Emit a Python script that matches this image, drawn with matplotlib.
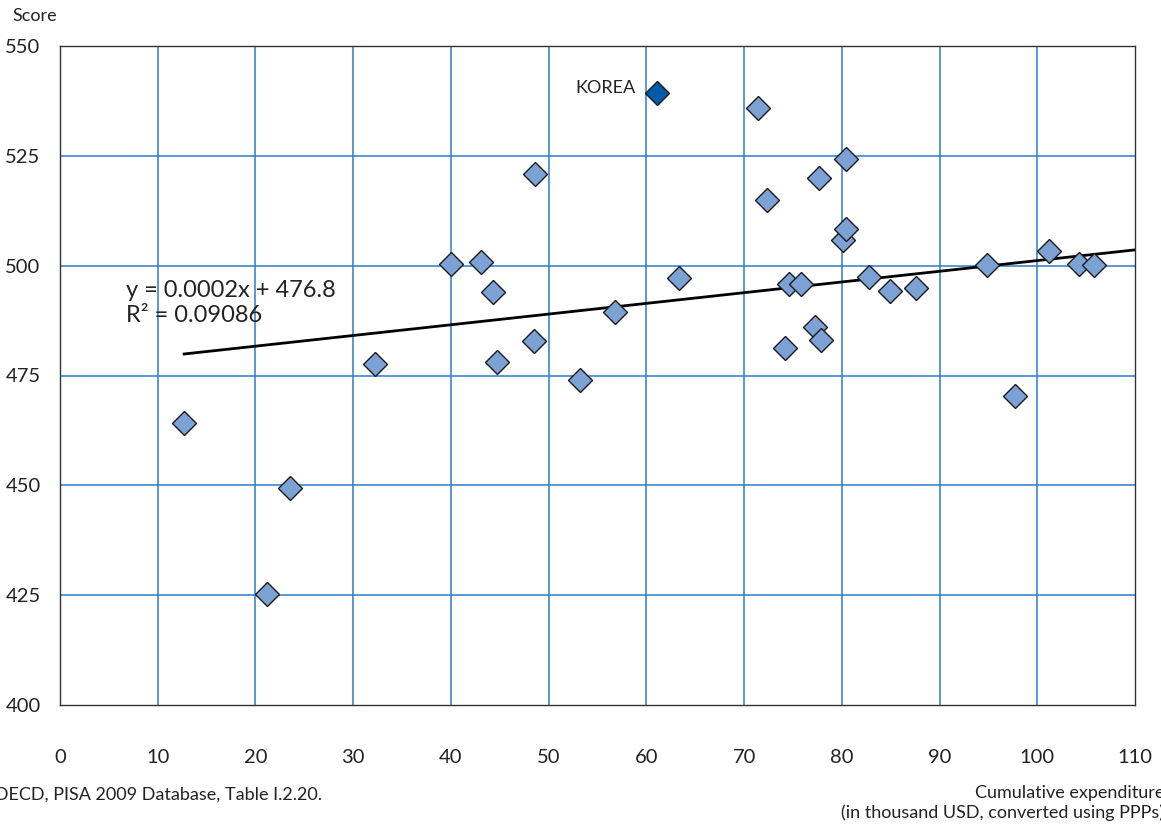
import numpy as np
import matplotlib
matplotlib.use('Agg')
import matplotlib.pyplot as plt

plt.rcParams['font.family'] = ['Lato', 'DejaVu Sans']

# 累计教育支出（千美元, PPP）与 PISA 得分
expenditure = [12.7, 21.2, 23.5, 32.2, 40.0, 43.1, 44.3, 44.7, 48.5, 48.6,
               53.2, 56.8, 63.3, 71.4, 72.3, 74.2, 74.6, 75.8, 77.3, 77.9,
               77.7, 80.1, 80.4, 80.4, 82.8, 84.9, 87.6, 94.9, 97.7, 101.2,
               104.3, 105.8]
score = [464.2, 425.3, 449.4, 477.6, 500.4, 500.8, 494.0, 478.1, 482.8, 520.9,
         474.0, 489.4, 497.2, 535.9, 514.9, 481.3, 495.8, 495.8, 486.0, 483.1,
         520.0, 505.8, 508.3, 524.3, 497.4, 494.2, 494.9, 500.1, 470.3, 503.3,
         500.4, 500.1]
korea_x = 61.1
korea_y = 539.3

# 趋势线 (per thousand USD)
trend_slope = 0.2436
trend_intercept = 476.8
trend_range = [12.7, 110]

xticks = list(range(0, 111, 10))
yticks = [400, 425, 450, 475, 500, 525, 550]

fig = plt.figure(figsize=(11.61, 8.24), dpi=100)
ax = fig.add_axes([60 / 1161, 1 - 705 / 824, 1075 / 1161, 659 / 824])

grid_color = '#2C7BC9'
for x in xticks[1:-1]:
    ax.axvline(x, color=grid_color, lw=1.1, zorder=1)
for y in yticks[1:-1]:
    ax.axhline(y, color=grid_color, lw=1.1, zorder=1)

tx = np.array(trend_range)
ax.plot(tx, trend_slope * tx + trend_intercept, color='black', lw=2.0, zorder=2)

ax.plot(expenditure, score, linestyle='none', marker='D', markersize=12,
        markerfacecolor='#7BA1D5', markeredgecolor='#1a1a1a', markeredgewidth=1.0, zorder=3)
ax.plot([korea_x], [korea_y], linestyle='none', marker='D', markersize=12,
        markerfacecolor='#005BAA', markeredgecolor='#1a1a1a', markeredgewidth=1.0, zorder=4)
ax.text(korea_x - 2.2, korea_y + 1.2, 'KOREA', ha='right', va='center', fontsize=13, color='#222222')

ax.text(6.8, 491.5, 'y = 0.0002x + 476.8\nR² = 0.09086', ha='left', va='center',
        fontsize=17, color='#222222', linespacing=1.2)

ax.set_xlim(0, 110)
ax.set_ylim(400, 550)
ax.set_xticks(xticks)
ax.set_yticks(yticks)
ax.tick_params(length=0, labelsize=14.5, colors='#222222')
ax.tick_params(axis='x', pad=32)
ax.tick_params(axis='y', pad=14)
for s in ax.spines.values():
    s.set_color('#333333')
    s.set_linewidth(1.0)

fig.text(12 / 1161, 1 - 16 / 824, 'Score', ha='left', va='center', fontsize=13, color='#222222')
fig.text(-6 / 1161, 1 - 795 / 824, 'OECD, PISA 2009 Database, Table I.2.20.', ha='left', va='center',
         fontsize=13, color='#222222')
fig.text(1164 / 1161, 1 - 803 / 824, 'Cumulative expenditure\n(in thousand USD, converted using PPPs)',
         ha='right', va='center', fontsize=13, color='#222222', multialignment='right', linespacing=1.3)

fig.savefig('out.png', dpi=100)
